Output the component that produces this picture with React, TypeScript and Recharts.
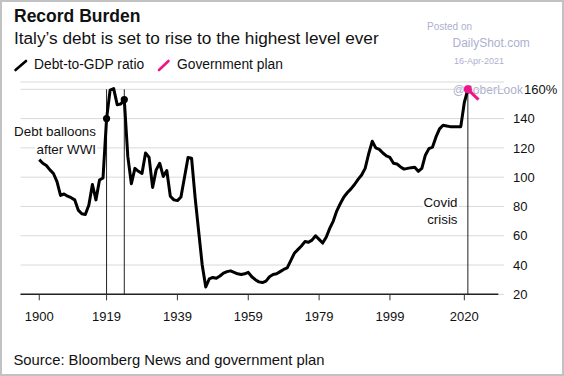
import React from 'react';
import {
  LineChart,
  Line,
  XAxis,
  YAxis,
  CartesianGrid,
  ReferenceLine,
  ReferenceDot,
} from 'recharts';

// Debt-to-GDP ratio (%), one value per year from 1900
const FIRST_YEAR = 1900;
const debtRatio = [
  112, 109.5, 108, 105, 102.5, 97, 87.5, 88.5, 87, 86, // 1900s
  84.5, 77.5, 75, 74.5, 81, 95, 84.5, 98, 99.5, 140, // 1910s
  159.5, 160.5, 149.5, 150, 153, 114, 95.5, 106, 104, 102.5, // 1920s
  116.5, 113.5, 93, 105, 109.5, 100.5, 104.5, 87, 84.5, 84, // 1930s
  86.5, 100, 113.5, 113, 86, 63, 40, 25, 30.5, 31.5, // 1940s
  31, 32.5, 34.5, 35.5, 36, 35, 34, 33.5, 34, 35, // 1950s
  32, 30, 28.5, 28, 29, 32, 33.5, 34, 35.5, 37, // 1960s
  38, 43, 48, 50.5, 53, 56, 55.5, 57, 60, 57.5, // 1970s
  55, 59, 65, 70, 77, 82, 86.5, 89.5, 92, 95, // 1980s
  98.5, 101.5, 106, 116, 124.5, 120, 119, 116.5, 114.5, 113.5, // 1990s
  109.5, 109, 107, 105.5, 106, 106.5, 106.7, 104, 106, 115, // 2000s
  119.5, 120.5, 127.5, 133, 135.5, 135, 134.5, 134.5, 134.5, 134.5, // 2010s
  151, 160, // 2020-2021
];

const planYears = [2021, 2024];
const planRatio = [160, 153];

const xTicks = [1900, 1919, 1939, 1959, 1979, 1999, 2020];
const yTicks = [20, 40, 60, 80, 100, 120, 140, 160];
const wwiYears = [1919, 1924];
const covidYear = 2021;

const debtData = debtRatio.map((v, i) => ({ year: FIRST_YEAR + i, value: v }));
const planData = planYears.map((y, i) => ({ year: y, value: planRatio[i] }));
const valueAt = (year: number) => debtRatio[year - FIRST_YEAR];

const FONT = '"Liberation Sans", Arial, Helvetica, sans-serif';
const PINK = '#f0168a';
const WATERMARK = '#aeb0cf';

const YTick = (props: any) => {
  const { x, y, payload } = props;
  const top = payload.value === 160;
  return (
    <text
      x={x + (top ? 11 : 0)}
      y={y}
      dy="0.36em"
      textAnchor="start"
      fill="#111"
      fontSize={13}
      fontFamily={FONT}
    >
      {top ? '160%' : payload.value}
    </text>
  );
};

const abs = (extra: React.CSSProperties): React.CSSProperties => ({
  position: 'absolute',
  whiteSpace: 'nowrap',
  fontFamily: FONT,
  ...extra,
});

const Note = ({ lines, right, top, size, lh }: { lines: string[]; right: number; top: number; size: number; lh: number }) => (
  <div style={abs({ right, top, textAlign: 'right', fontSize: size, lineHeight: `${lh}px`, color: '#111' })}>
    {lines.map((l) => (
      <div key={l}>
        <span style={{ background: '#fff', padding: '0 1px' }}>{l}</span>
      </div>
    ))}
  </div>
);

export default function App() {
  return (
    <div style={{ position: 'absolute', left: 0, top: 0, width: 564, height: 376, background: '#fff', overflow: 'hidden' }}>
      {/* watermark */}
      <div style={abs({ left: 427, top: 21.8, fontSize: 10, lineHeight: '10px', color: WATERMARK })}>Posted on</div>
      <div style={abs({ left: 452.5, top: 37.4, fontSize: 12, lineHeight: '12px', color: WATERMARK })}>DailyShot.com</div>
      <div style={abs({ left: 454, top: 56.6, fontSize: 9, lineHeight: '9px', color: WATERMARK })}>16-Apr-2021</div>
      <div style={abs({ left: 452.7, top: 84.4, fontSize: 12, lineHeight: '12px', color: WATERMARK })}>@SoberLook</div>

      <div style={abs({ left: 14, top: 7.9, fontSize: 17.5, lineHeight: '17.5px', fontWeight: 700, color: '#111' })}>
        Record Burden
      </div>
      <div style={abs({ left: 14, top: 30.4, fontSize: 17.2, lineHeight: '17.2px', color: '#111' })}>
        Italy’s debt is set to rise to the highest level ever
      </div>

      {/* legend */}
      <svg style={{ position: 'absolute', left: 0, top: 0 }} width={200} height={80}>
        <line x1={15.5} y1={70} x2={26} y2={61} stroke="#000" strokeWidth={2.6} strokeLinecap="round" />
        <line x1={159} y1={70} x2={168.5} y2={61} stroke={PINK} strokeWidth={2.6} strokeLinecap="round" />
      </svg>
      <div style={abs({ left: 34, top: 58.3, fontSize: 13.8, lineHeight: '13.8px', color: '#111' })}>Debt-to-GDP ratio</div>
      <div style={abs({ left: 177, top: 58.3, fontSize: 13.8, lineHeight: '13.8px', color: '#111' })}>Government plan</div>

      <div style={{ position: 'absolute', left: 0, top: 0 }}>
        <LineChart width={564} height={376} margin={{ top: 82, right: 0, bottom: 51.7, left: 20.5 }}>
          <CartesianGrid vertical={false} stroke="#d9d9d9" strokeWidth={1} />
          <XAxis
            dataKey="year"
            type="number"
            domain={[1894.7, 2031.2]}
            ticks={xTicks}
            height={30}
            axisLine={false}
            tickLine={{ stroke: '#333', strokeWidth: 1 }}
            tickSize={6}
            tickMargin={11}
            tick={{ fontSize: 13, fill: '#111', fontFamily: FONT }}
            allowDuplicatedCategory={false}
          />
          <YAxis
            orientation="right"
            width={60}
            domain={[20, 165]}
            ticks={yTicks}
            axisLine={false}
            tickLine={false}
            tickSize={6}
            tickMargin={3}
            tick={<YTick />}
          />
          <ReferenceLine
            segment={[{ x: 1894.7, y: 20 }, { x: 2029.6, y: 20 }]}
            stroke="#222"
            strokeWidth={1.4}
          />
          {wwiYears.map((yr) => (
            <ReferenceLine key={yr} segment={[{ x: yr, y: 20 }, { x: yr, y: 160 }]} stroke="#222" strokeWidth={1} />
          ))}
          <ReferenceLine segment={[{ x: covidYear, y: 20 }, { x: covidYear, y: 160 }]} stroke="#222" strokeWidth={1} />
          <Line
            data={debtData}
            dataKey="value"
            type="linear"
            stroke="#000"
            strokeWidth={3}
            strokeLinejoin="round"
            dot={false}
            isAnimationActive={false}
          />
          <Line
            data={planData}
            dataKey="value"
            type="linear"
            stroke={PINK}
            strokeWidth={3}
            dot={false}
            isAnimationActive={false}
          />
          {wwiYears.map((yr) => (
            <ReferenceDot key={`d${yr}`} x={yr} y={valueAt(yr)} r={3.6} fill="#000" stroke="none" />
          ))}
          <ReferenceDot x={planYears[0]} y={planRatio[0]} r={4} fill={PINK} stroke="none" />
        </LineChart>
      </div>

      <Note lines={['Debt balloons', 'after WWI']} right={564 - 97} top={123.3} size={13.4} lh={17.7} />
      <Note lines={['Covid', 'crisis']} right={564 - 458.5} top={194.2} size={13.3} lh={17} />

      <div style={abs({ left: 13.5, top: 353.2, fontSize: 14.8, lineHeight: '14.8px', color: '#111' })}>
        Source: Bloomberg News and government plan
      </div>

      <div style={{ position: 'absolute', left: 0, top: 0, width: 564, height: 376, boxSizing: 'border-box', border: '2px solid #c2c2c2', pointerEvents: 'none' }} />
    </div>
  );
}
